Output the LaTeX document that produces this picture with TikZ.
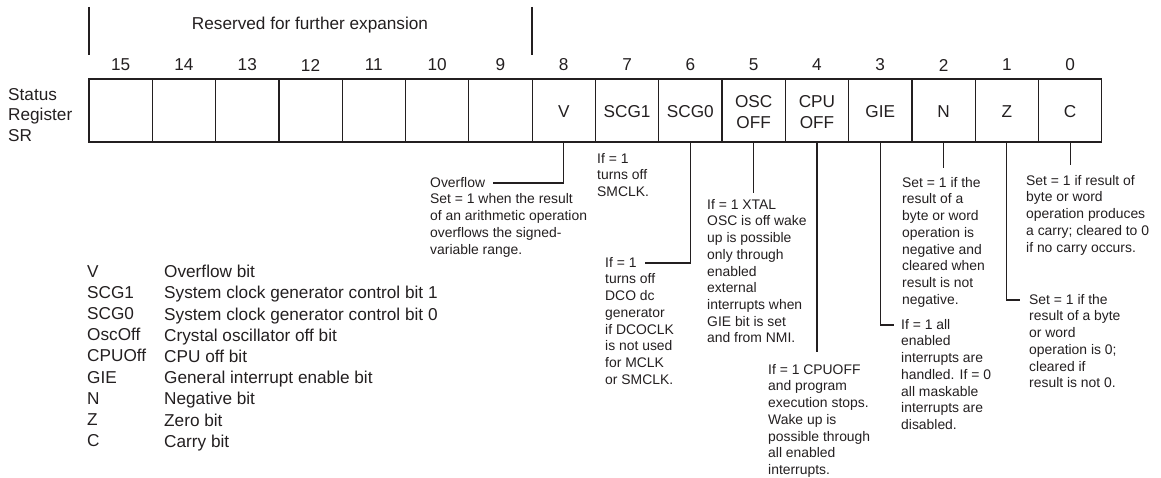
\documentclass[tikz,border=0pt]{standalone}
\usepackage{fontspec}
\setmainfont{Liberation Sans}
\usetikzlibrary{calc}
\definecolor{ink}{HTML}{231F20}
\begin{document}
\begin{tikzpicture}[x=1pt,y=-1pt,
  cell/.style={draw=ink, line width=1.2pt, minimum width=63.3pt, minimum height=63pt, inner sep=0pt, outer sep=0pt},
  big/.style={text=ink, font=\fontsize{17.2}{20.5}\selectfont, inner sep=0pt, align=center},
  note/.style={text=ink, font=\fontsize{13.9}{16.7}\selectfont, align=left, anchor=north west, inner sep=0pt},
  legend/.style={text=ink, font=\fontsize{17.2}{21.2}\selectfont, align=left, anchor=north west, inner sep=0pt},
  lead/.style={draw=ink, line width=1.2pt}]
\useasboundingbox (0,0) rectangle (1161,478);

% register cells and bit numbers
\foreach \b [count=\k from 0] in {15,14,...,0} {
  \pgfmathsetmacro\cx{89+63.3*(\k+0.5)}
  \node[cell] (c\b) at (\cx,110.5) {};
  \node[big] (n\b) at (\cx,65) {\b};
}

% reserved bracket
\coordinate (r1a) at (89,7);  \coordinate (r1b) at (89,55);
\coordinate (r2a) at (532,7); \coordinate (r2b) at (532,55);
\draw[lead] (r1a) -- (r1b);
\draw[lead] (r2a) -- (r2b);
\node[big] (res) at (310,25) {Reserved for further expansion};

% register name
\node[big, anchor=north west, align=left] (sr) at (8,88) {Status\\Register\\SR};

% cell labels
\node[big] (tV)  at ($(c8)+(0,1.5)$) {V};
\node[big] (t7)  at ($(c7)+(0,1.5)$) {SCG1};
\node[big] (t6)  at ($(c6)+(0,1.5)$) {SCG0};
\node[big] (t5)  at ($(c5)+(0,1.5)$) {OSC\\OFF};
\node[big] (t4)  at ($(c4)+(0,1.5)$) {CPU\\OFF};
\node[big] (t3)  at ($(c3)+(0,1.5)$) {GIE};
\node[big] (t2)  at ($(c2)+(0,1.5)$) {N};
\node[big] (t1)  at ($(c1)+(0,1.5)$) {Z};
\node[big] (t0)  at ($(c0)+(0,1.5)$) {C};

% annotations
\node[note] (aV) at (430,177) {Overflow\\Set = 1 when the result\\of an arithmetic operation\\overflows the signed-\\variable range.};
\node[note] (a7) at (597,153) {If = 1\\turns off\\SMCLK.};
\node[note] (a6) at (605,257) {If = 1\\turns off\\DCO dc\\generator\\if DCOCLK\\is not used\\for MCLK\\or SMCLK.};
\node[note] (a5) at (707,199) {If = 1 XTAL\\OSC is off wake\\up is possible\\only through\\enabled\\external\\interrupts when\\GIE bit is set\\and from NMI.};
\node[note] (a4) at (768,364) {If = 1 CPUOFF\\and program\\execution stops.\\Wake up is\\possible through\\all enabled\\interrupts.};
\node[note] (a3) at (901,319) {If = 1 all\\enabled\\interrupts are\\handled. If = 0\\all maskable\\interrupts are\\disabled.};
\node[note] (a2) at (902,177) {Set = 1 if the\\result of a\\byte or word\\operation is\\negative and\\cleared when\\result is not\\negative.};
\node[note] (a1) at (1029,294) {Set = 1 if the\\result of a byte\\or word\\operation is 0;\\cleared if\\result is not 0.};
\node[note] (a0) at (1026,175) {Set = 1 if result of\\byte or word\\operation produces\\a carry; cleared to 0\\if no carry occurs.};

% leaders
\coordinate (eV) at (493,183);
\draw[lead] (c8.south) |- (eV);
\coordinate (e6) at (645,263);
\draw[lead] (c6.south) |- (e6);
\coordinate (e5) at ($(c5.south)+(0,51)$);
\draw[lead] (c5.south) -- (e5);
\coordinate (e4) at ($(c4.south)+(0,210)$);
\draw[lead] (c4.south) -- (e4);
\coordinate (e3) at (894,325);
\draw[lead] (c3.south) |- (e3);
\coordinate (e2) at ($(c2.south)+(0,26)$);
\draw[lead] (c2.south) -- (e2);
\coordinate (e1) at (1020,300);
\draw[lead] (c1.south) |- (e1);
\coordinate (e0) at ($(c0.south)+(0,23)$);
\draw[lead] (c0.south) -- (e0);

% legend
\node[legend] (lk) at (87,265) {V\\SCG1\\SCG0\\OscOff\\CPUOff\\GIE\\N\\Z\\C};
\node[legend] (ld) at (164,265) {Overflow bit\\System clock generator control bit 1\\System clock generator control bit 0\\Crystal oscillator off bit\\CPU off bit\\General interrupt enable bit\\Negative bit\\Zero bit\\Carry bit};
\end{tikzpicture}
\end{document}
